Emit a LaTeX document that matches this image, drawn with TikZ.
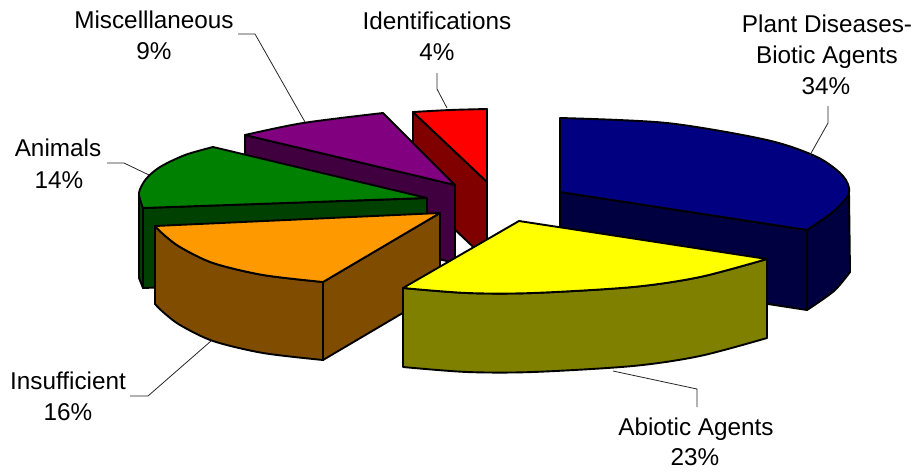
\documentclass[tikz,border=0pt]{standalone}
\usepackage{fontspec}
\setmainfont{Liberation Sans}
\definecolor{bluetop}{RGB}{0,0,128}
\definecolor{blueside}{RGB}{0,0,64}
\definecolor{yeltop}{RGB}{255,255,0}
\definecolor{yelside}{RGB}{128,128,0}
\definecolor{redtop}{RGB}{255,0,0}
\definecolor{redside}{RGB}{128,0,0}
\definecolor{purtop}{RGB}{128,0,128}
\definecolor{purside}{RGB}{64,0,64}
\definecolor{grntop}{RGB}{0,128,0}
\definecolor{grnside}{RGB}{0,64,0}
\definecolor{oratop}{RGB}{255,153,0}
\definecolor{oraside}{RGB}{128,77,0}
\newcommand\lblfont{\fontsize{24.3}{31}\selectfont}
\tikzset{
  slice/.style={draw=black, line width=1.9pt, line join=round},
  leader/.style={draw=black!85, line width=0.8pt},
  lbl/.style={font=\lblfont, anchor=base, inner sep=0pt, text=black},
}
\begin{document}
\begin{tikzpicture}[x=1pt,y=-1pt]
\useasboundingbox (0,0) rectangle (919,472);
% ---------- Identifications (red)
\filldraw[slice, fill=redside] (413,112) -- (487,182) -- (487,260) -- (413,190) -- cycle;
\filldraw[slice, fill=redtop] (487,182) -- plot[smooth] coordinates {(413,112) (450,110) (487,109)} -- cycle;
% ---------- Miscellaneous (purple)
\filldraw[slice, fill=purside] (245,135) -- (455,185) -- (455,263) -- (245,213) -- cycle;
\filldraw[slice, fill=purtop] (455,185) -- plot[smooth] coordinates {(245,135) (303,123) (383,113)} -- cycle;
% ---------- Animals (green)
\filldraw[slice, fill=grnside] (139,196) -- (143,208) -- (143,288) -- (139,278) -- cycle;
\filldraw[slice, fill=grnside] (143,208) -- (427,198) -- (427,278) -- (143,288) -- cycle;
\filldraw[slice, fill=grntop] (427,198) -- plot[smooth] coordinates {(213,147) (185,155) (160,167) (146,179) (139,193) (143,208)} -- cycle;
% ---------- Plant Diseases (blue)
\filldraw[slice, fill=blueside] (560,192) -- (807,230) -- (807,310) -- (560,272) -- cycle;
\filldraw[slice, fill=blueside] plot[smooth] coordinates {(849,192) (834,211) (807,230)} -- plot[smooth] coordinates {(807,310) (834,291) (850,272)} -- cycle;
\filldraw[slice, fill=bluetop] (560,192) -- plot[smooth] coordinates {(560,118) (667,123) (767,140) (817,157) (843,176) (849,193) (834,211) (807,230)} -- cycle;
% ---------- Insufficient (orange)
\filldraw[slice, fill=oraside] (323,282) -- (440,213) -- (440,291) -- (323,360) -- cycle;
\filldraw[slice, fill=oraside] plot[smooth] coordinates {(155,226) (163,234) (180,247) (213,263) (263,275) (323,282)} -- plot[smooth] coordinates {(323,360) (263,353) (213,341) (180,325) (163,312) (155,304)} -- cycle;
\filldraw[slice, fill=oratop] (440,213) -- plot[smooth] coordinates {(155,226) (163,234) (180,247) (213,263) (263,275) (323,282)} -- cycle;
% ---------- Abiotic Agents (yellow)
\filldraw[slice, fill=yelside] plot[smooth] coordinates {(403,288) (467,293) (533,293) (633,287) (700,277) (767,259)} -- plot[smooth] coordinates {(767,338) (700,356) (633,366) (533,372) (467,372) (403,367)} -- cycle;
\filldraw[slice, fill=yeltop] (519,221) -- plot[smooth] coordinates {(767,259) (700,277) (633,287) (533,293) (467,293) (403,288)} -- cycle;
% ---------- labels
\node[lbl] (misc1) at (154,28) {Miscelllaneous};
\node[lbl] (misc2) at (154,59) {9\%};
\node[lbl] (iden1) at (437,29) {Identifications};
\node[lbl] (iden2) at (437,60) {4\%};
\node[lbl] (plant1) at (827,32) {Plant Diseases-};
\node[lbl] (plant2) at (827,63) {Biotic Agents};
\node[lbl] (plant3) at (826,94) {34\%};
\node[lbl] (anim1) at (58,156) {Animals};
\node[lbl] (anim2) at (59,188) {14\%};
\node[lbl] (insu1) at (68,389) {Insufficient};
\node[lbl] (insu2) at (68,420) {16\%};
\node[lbl] (abio1) at (696,435) {Abiotic Agents};
\node[lbl] (abio2) at (695,465) {23\%};
% ---------- leader lines
\coordinate (mA) at (238,34); \coordinate (mB) at (255,34); \coordinate (mC) at (305,122);
\coordinate (iA) at (437,73); \coordinate (iB) at (437,89); \coordinate (iC) at (447,108);
\coordinate (pA) at (828,106); \coordinate (pB) at (828,123); \coordinate (pC) at (810,155);
\coordinate (aA) at (107,163); \coordinate (aB) at (124,163); \coordinate (aC) at (149,175);
\coordinate (sA) at (130,396); \coordinate (sB) at (148,396); \coordinate (sC) at (211,341);
\coordinate (bA) at (697,407); \coordinate (bB) at (697,389); \coordinate (bC) at (613,371);
\draw[leader] (mA) -- (mB) -- (mC);
\draw[leader] (iA) -- (iB) -- (iC);
\draw[leader] (pA) -- (pB) -- (pC);
\draw[leader] (aA) -- (aB) -- (aC);
\draw[leader] (sA) -- (sB) -- (sC);
\draw[leader] (bA) -- (bB) -- (bC);
\end{tikzpicture}
\end{document}
